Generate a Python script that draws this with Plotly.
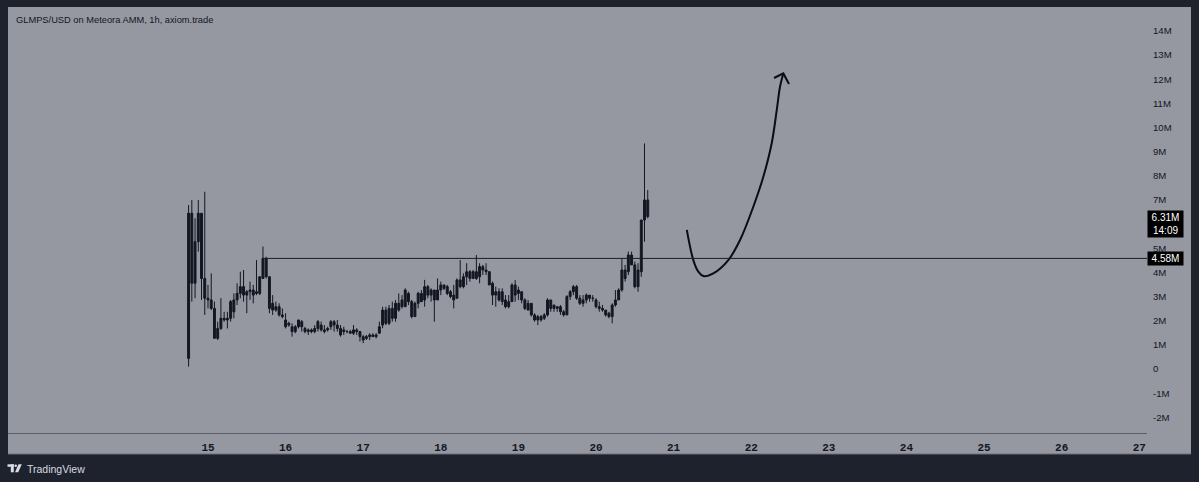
import plotly.graph_objects as go
import pandas as pd
from datetime import datetime, timedelta

# ---------------- data ----------------
opens = [0.44, 6.45, 3.55, 5.27, 6.45, 3.75, 2.93, 2.86, 2.51, 1.27,
         1.68, 2.10, 2.03, 2.10, 2.37, 2.86, 3.13, 3.41, 3.06, 3.20,
         3.27, 3.13, 3.13, 3.75, 4.58, 3.82, 2.72, 2.44, 2.58, 2.24,
         2.03, 1.82, 1.75, 1.55, 1.75, 1.96, 1.68, 1.55, 1.62, 1.55,
         1.68, 1.82, 1.55, 1.62, 1.75, 1.96, 1.82, 1.68, 1.62, 1.55,
         1.55, 1.48, 1.62, 1.55, 1.34, 1.27, 1.34, 1.41, 1.34, 1.48,
         1.82, 2.44, 1.89, 2.51, 2.10, 2.72, 2.58, 2.58, 3.13, 2.79,
         2.17, 2.72, 3.13, 2.86, 3.41, 3.06, 3.27, 2.86, 3.27, 3.48,
         3.41, 3.20, 3.06, 2.93, 3.69, 3.41, 3.82, 4.03, 3.75, 4.03,
         3.82, 4.24, 4.10, 4.03, 3.55, 3.06, 3.20, 2.79, 2.86, 2.58,
         2.79, 3.48, 3.13, 3.20, 2.86, 2.72, 2.72, 2.24, 2.17, 2.03,
         2.10, 2.24, 2.86, 2.65, 2.51, 2.58, 2.37, 2.24, 3.00, 3.20,
         3.41, 2.93, 2.72, 2.86, 3.06, 2.93, 2.86, 2.58, 2.51, 2.44,
         2.31, 2.17, 2.65, 2.86, 3.27, 4.10, 4.03, 4.72, 4.31, 3.41,
         4.03, 6.17, 7.00]
highs = [6.79, 7.00, 6.24, 7.00, 6.45, 7.34, 3.48, 3.96, 2.79, 1.96,
         2.93, 2.37, 2.37, 2.86, 3.13, 3.55, 4.03, 4.10, 3.27, 3.62,
         3.48, 4.51, 3.82, 5.07, 4.65, 3.82, 3.06, 2.79, 2.72, 2.51,
         2.31, 1.96, 1.89, 1.82, 2.03, 2.03, 1.75, 1.68, 1.68, 1.82,
         2.03, 1.96, 1.82, 1.75, 2.03, 2.03, 2.03, 1.82, 1.75, 1.62,
         1.62, 1.82, 1.69, 1.55, 1.41, 1.41, 1.48, 1.48, 1.48, 1.96,
         2.58, 2.58, 2.65, 2.79, 2.86, 3.13, 3.06, 3.34, 3.20, 2.86,
         2.79, 3.20, 3.27, 3.69, 3.48, 3.34, 3.27, 3.75, 3.62, 3.48,
         3.48, 3.27, 3.48, 3.75, 4.51, 3.96, 4.38, 4.10, 4.10, 4.72,
         4.38, 4.31, 4.38, 4.03, 3.62, 3.41, 3.34, 3.34, 3.06, 3.06,
         3.55, 3.68, 3.41, 3.20, 2.93, 2.86, 2.72, 2.31, 2.24, 2.24,
         2.31, 2.93, 2.86, 2.65, 2.58, 2.65, 2.44, 3.06, 3.27, 3.48,
         3.48, 3.06, 3.06, 3.13, 3.06, 3.06, 2.93, 2.79, 2.65, 2.44,
         2.37, 2.72, 3.27, 3.34, 4.58, 4.31, 4.86, 4.86, 4.45, 4.38,
         6.17, 9.34, 7.41]
lows = [0.10, 2.79, 2.93, 4.86, 2.86, 2.24, 2.51, 2.44, 1.27, 1.20,
        1.62, 1.96, 1.68, 1.96, 2.10, 2.65, 2.93, 2.79, 2.31, 2.86,
        2.72, 3.06, 3.06, 3.75, 3.75, 2.31, 2.24, 2.37, 2.17, 2.10,
        1.68, 1.75, 1.34, 1.48, 1.68, 1.55, 1.48, 1.41, 1.48, 1.48,
        1.55, 1.55, 1.48, 1.55, 1.62, 1.55, 1.55, 1.34, 1.41, 1.48,
        1.48, 1.41, 1.41, 1.14, 1.07, 1.20, 1.20, 1.34, 1.27, 1.48,
        1.69, 1.82, 1.82, 1.96, 1.96, 2.37, 2.51, 2.58, 2.65, 2.10,
        2.17, 2.51, 2.79, 2.58, 2.93, 2.79, 1.96, 2.86, 3.06, 3.27,
        3.06, 2.93, 2.51, 2.93, 3.34, 3.34, 3.48, 3.62, 3.75, 3.69,
        3.55, 3.89, 3.89, 3.48, 2.65, 2.58, 2.79, 2.65, 2.51, 2.51,
        2.79, 2.79, 2.86, 2.72, 2.44, 2.44, 2.17, 1.96, 1.82, 1.96,
        2.03, 2.17, 2.37, 2.37, 2.37, 2.24, 2.17, 2.24, 2.86, 3.06,
        2.86, 2.65, 2.58, 2.72, 2.79, 2.79, 2.51, 2.37, 2.37, 2.17,
        2.10, 1.89, 2.58, 2.86, 3.20, 3.62, 3.89, 4.31, 3.34, 3.20,
        3.82, 5.27, 6.24]
closes = [6.45, 3.55, 5.27, 6.45, 3.75, 2.93, 2.86, 2.51, 1.27, 1.68,
          2.10, 2.03, 2.10, 2.79, 2.86, 3.13, 3.41, 3.06, 3.20, 3.27,
          3.06, 3.20, 3.82, 4.58, 3.82, 2.51, 2.44, 2.58, 2.24, 2.17,
          1.75, 1.89, 1.55, 1.75, 2.03, 1.75, 1.55, 1.62, 1.55, 1.68,
          1.96, 1.62, 1.62, 1.68, 1.96, 1.82, 1.68, 1.41, 1.55, 1.55,
          1.48, 1.62, 1.55, 1.34, 1.20, 1.34, 1.41, 1.34, 1.41, 1.75,
          2.44, 1.89, 2.51, 2.10, 2.72, 2.44, 2.86, 3.27, 2.79, 2.17,
          2.72, 3.13, 2.79, 3.41, 3.06, 3.27, 2.86, 3.27, 3.48, 3.34,
          3.13, 3.00, 2.86, 3.69, 3.41, 3.82, 4.03, 3.75, 4.03, 3.75,
          4.24, 4.10, 4.03, 3.48, 3.06, 3.20, 2.86, 3.20, 2.58, 2.79,
          3.48, 3.06, 3.27, 2.86, 2.51, 2.44, 2.24, 2.03, 2.03, 2.17,
          2.24, 2.86, 2.51, 2.51, 2.58, 2.37, 2.24, 3.00, 3.20, 3.41,
          2.93, 2.72, 2.86, 3.06, 2.93, 2.93, 2.58, 2.51, 2.44, 2.24,
          2.17, 2.65, 2.86, 3.27, 4.10, 3.75, 4.72, 4.31, 3.41, 4.10,
          6.17, 7.00, 6.31]
first_candle = "2025-06-14 18:00"

level_value = 4.58          # horizontal line (M)
level_start_index = 23      # candle where the line starts
last_price = 6.31
countdown = "14:09"

# hand-drawn arrow (day-of-month, value in M)
arrow_days = [21.17, 21.254, 21.318, 21.383, 21.512, 21.705, 21.856, 22.027,
              22.156, 22.264, 22.329, 22.371, 22.414]
arrow_vals = [5.76, 4.51, 4.03, 3.85, 3.96, 4.51, 5.34, 6.72,
              7.96, 9.35, 10.72, 11.69, 12.24]
head_days = [22.294, 22.414, 22.487]
head_vals = [12.05, 12.24, 11.80]

y_tick_vals = list(range(-2, 15))
# the 6M label sits under the last-price box in the reference
y_tick_text = [("0" if v == 0 else ("" if v == 6 else f"{v}M")) for v in y_tick_vals]
x_tick_days = list(range(15, 28))
x_range_days = [12.423, 27.10]
y_range = [-2.65, 14.99]

title_text = "GLMPS/USD on Meteora AMM, 1h, axiom.trade"

# ---------------- helpers ----------------
month_start = datetime(2025, 6, 1)


def day_to_dt(d):
    return month_start + timedelta(days=d - 1)


W, H = 1199, 482
ML, MR, MT, MB = 8, 52, 7, 49
PW, PH = W - ML - MR, H - MT - MB


def px(x):
    return (x - ML) / PW


def py(y):
    return (H - MB - y) / PH


times = pd.date_range(first_candle, periods=len(opens), freq="h")
dark = "#131722"
gray = "#9598a1"

fig = go.Figure()
fig.add_trace(go.Candlestick(
    x=times, open=opens, high=highs, low=lows, close=closes,
    increasing=dict(line=dict(color=dark, width=1), fillcolor=dark),
    decreasing=dict(line=dict(color=dark, width=1), fillcolor=dark),
    whiskerwidth=0, showlegend=False, hoverinfo="skip",
))

fig.add_trace(go.Scatter(
    x=[day_to_dt(d) for d in arrow_days], y=arrow_vals, mode="lines",
    line=dict(color="#0b0d12", width=2, shape="spline", smoothing=1.0),
    showlegend=False, hoverinfo="skip",
))
fig.add_trace(go.Scatter(
    x=[day_to_dt(d) for d in head_days], y=head_vals, mode="lines",
    line=dict(color="#0b0d12", width=2),
    showlegend=False, hoverinfo="skip",
))

shapes = []
# gray panel including axis bands
shapes.append(dict(type="rect", xref="paper", yref="paper",
                   x0=0, x1=px(1191), y0=py(454), y1=1,
                   fillcolor=gray, line=dict(width=0), layer="below"))
# horizontal level line
shapes.append(dict(type="line", xref="x", yref="y",
                   x0=times[level_start_index], x1=day_to_dt(x_range_days[1]),
                   y0=level_value, y1=level_value,
                   line=dict(color="#1a1c22", width=1)))
# bottom edge of time axis band
shapes.append(dict(type="line", xref="paper", yref="paper",
                   x0=0, x1=px(1191), y0=py(454), y1=py(454),
                   line=dict(color="#6a6d78", width=1)))
# TradingView logo
logo = "#d9dbe2"
shapes.append(dict(type="rect", xref="paper", yref="paper",
                   x0=px(7.5), x1=px(13.8), y0=py(466.8), y1=py(464.3),
                   fillcolor=logo, line=dict(width=0)))
shapes.append(dict(type="rect", xref="paper", yref="paper",
                   x0=px(10.8), x1=px(13.8), y0=py(472.3), y1=py(464.3),
                   fillcolor=logo, line=dict(width=0)))
shapes.append(dict(type="circle", xref="paper", yref="paper",
                   x0=px(14.4), x1=px(17.0), y0=py(467.0), y1=py(464.4),
                   fillcolor=logo, line=dict(width=0)))
shapes.append(dict(type="path", xref="paper", yref="paper",
                   path=f"M {px(18.5)} {py(464.3)} L {px(21.8)} {py(464.3)} "
                        f"L {px(18.2)} {py(472.3)} L {px(15.0)} {py(472.3)} Z",
                   fillcolor=logo, line=dict(width=0)))

annotations = []
annotations.append(dict(xref="paper", yref="paper", x=px(14), y=py(19.5),
                        text=title_text, showarrow=False, xanchor="left",
                        yanchor="middle",
                        font=dict(family="Liberation Sans, Arial", size=9.3,
                                  color=dark)))
annotations.append(dict(xref="paper", yref="paper", x=px(25), y=py(469),
                        text="TradingView", showarrow=False, xanchor="left",
                        yanchor="middle",
                        font=dict(family="Liberation Sans, Arial", size=10.5,
                                  color=logo)))
annotations.append(dict(xref="paper", yref="y", x=1.0, y=level_value,
                        text=f"{level_value:.2f}M", showarrow=False,
                        xanchor="left", yanchor="middle", bgcolor="#000000",
                        borderpad=1, width=33,
                        font=dict(family="Liberation Sans, Arial", size=10,
                                  color="#ffffff")))
annotations.append(dict(xref="paper", yref="y", x=1.0, y=last_price,
                        text=f"{last_price:.2f}M<br>{countdown}",
                        showarrow=False, xanchor="left", yanchor="top",
                        yshift=7, bgcolor="#000000", borderpad=1, width=33,
                        font=dict(family="Liberation Sans, Arial", size=10,
                                  color="#ffffff")))

fig.update_layout(
    width=W, height=H,
    margin=dict(l=ML, r=MR, t=MT, b=MB, autoexpand=False),
    paper_bgcolor="#1e222d", plot_bgcolor=gray,
    shapes=shapes, annotations=annotations,
    showlegend=False, boxgap=0.15,
    xaxis=dict(
        type="date",
        range=[day_to_dt(x_range_days[0]), day_to_dt(x_range_days[1])],
        tickvals=[day_to_dt(d) for d in x_tick_days],
        ticktext=[str(d) for d in x_tick_days],
        showgrid=False, zeroline=False, ticks="",
        showline=True, linecolor="#5d606b", linewidth=1,
        rangeslider=dict(visible=False),
        tickfont=dict(family="Liberation Mono, DejaVu Sans Mono", size=11,
                      color=dark, weight="bold"),
        ticklabelstandoff=4,
    ),
    yaxis=dict(
        side="right", range=y_range,
        tickvals=y_tick_vals, ticktext=y_tick_text,
        showgrid=False, zeroline=False, ticks="",
        tickfont=dict(family="Liberation Sans, Arial", size=9.6, color=dark),
        ticklabelstandoff=5,
    ),
)

fig.write_html(
    "out.html",
    config={"displayModeBar": False},
    post_script="document.body.style.margin='0';"
                "document.body.style.background='#1e222d';",
)
